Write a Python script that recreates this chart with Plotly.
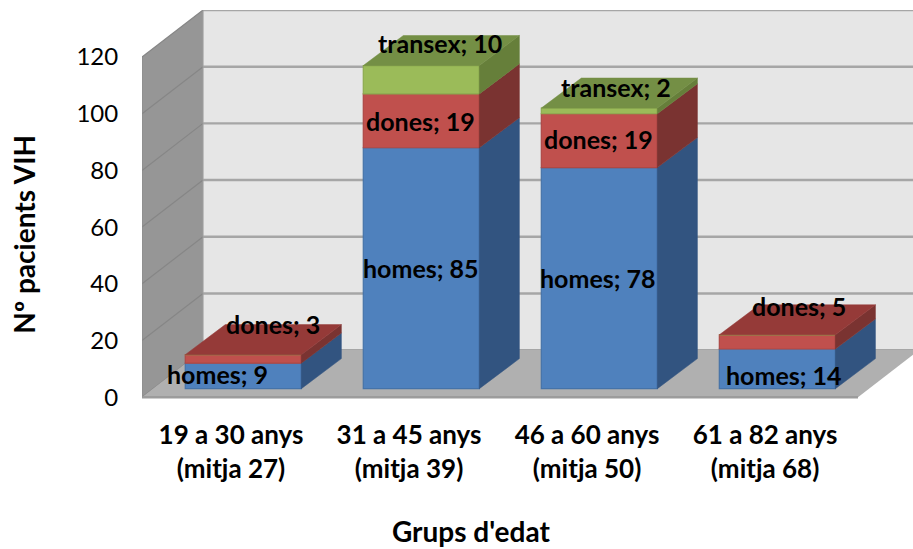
import plotly.graph_objects as go

# ---- data ----
groups = ["19 a 30 anys", "31 a 45 anys", "46 a 60 anys", "61 a 82 anys"]
means = ["(mitja 27)", "(mitja 39)", "(mitja 50)", "(mitja 68)"]
series_names = ["homes", "dones", "transex"]
homes = [9, 85, 78, 14]
dones = [3, 19, 19, 5]
transex = [0, 10, 2, 0]
y_ticks = [0, 20, 40, 60, 80, 100, 120]

# ---- pseudo-3D projection (axis units) ----
X_POS = [1, 2, 3, 4]
BAR_W = 0.652
BAR_SHIFT = 0.069
LIFT = 3.0
BAR_DX, BAR_DY = 0.225, 10.6
WALL_DX, WALL_DY = 0.343, 16.6
X0, X1 = 0.5, 4.831
FLOOR_X1 = 4.522
Y_MAX = 120

FRONT = {"homes": "#4F81BD", "dones": "#C0504D", "transex": "#9BBB59"}
EDGE = {"homes": "#4673A8", "dones": "#AD4845", "transex": "#8DAB50"}
SIDE = {"homes": "#325480", "dones": "#7A3331", "transex": "#667F3A"}
TOP = {"homes": "#3B6296", "dones": "#953A38", "transex": "#748F45"}
FONT = "Lato, 'Open Sans', sans-serif"

fig = go.Figure()
values = {"homes": homes, "dones": dones, "transex": transex}


def poly(pts, fill, line=None, width=0):
    path = "M " + " L ".join(f"{x},{y}" for x, y in pts) + " Z"
    return dict(type="path", path=path, xref="x", yref="y", layer="below",
                fillcolor=fill, line=dict(color=line or fill, width=width))


shapes = [
    # back wall
    poly([(X0 + WALL_DX, WALL_DY), (X1 + 1, WALL_DY), (X1 + 1, Y_MAX + WALL_DY),
          (X0 + WALL_DX, Y_MAX + WALL_DY)], "#E6E6E6"),
    # left wall
    poly([(X0, 0), (X0 + WALL_DX, WALL_DY), (X0 + WALL_DX, Y_MAX + WALL_DY), (X0, Y_MAX)],
         "#969696"),
]
for t in y_ticks:
    shapes.append(dict(type="line", xref="x", yref="y", layer="below",
                       x0=X0 + WALL_DX, x1=X1 + 1, y0=t + WALL_DY, y1=t + WALL_DY,
                       line=dict(color="#A6A6A6", width=2.4)))
    shapes.append(dict(type="line", xref="x", yref="y", layer="below",
                       x0=X0, x1=X0 + WALL_DX, y0=t, y1=t + WALL_DY,
                       line=dict(color="#868686", width=1.2)))
# floor
shapes.append(poly([(X0, 0), (FLOOR_X1, 0), (FLOOR_X1 + WALL_DX, WALL_DY), (X0 + WALL_DX, WALL_DY)],
                   "#B0B0B0"))
shapes.append(dict(type="line", xref="x", yref="y", layer="below",
                   x0=X0, x1=FLOOR_X1, y0=0, y1=0, line=dict(color="#9C9C9C", width=2.5)))
shapes.append(dict(type="line", xref="x", yref="y", layer="below",
                   x0=X0 + WALL_DX, x1=X0 + WALL_DX, y0=WALL_DY, y1=Y_MAX + WALL_DY,
                   line=dict(color="#A0A0A0", width=1)))
shapes.append(dict(type="line", xref="x", yref="y", layer="below",
                   x0=X0, x1=X0, y0=0, y1=Y_MAX, line=dict(color="#8A8A8A", width=1)))

# ---- stacked fronts, sides and tops ----
bar_x = [x + BAR_SHIFT for x in X_POS]
bases = [LIFT] * len(X_POS)
for name in series_names:
    vals = values[name]
    fig.add_trace(go.Bar(x=bar_x, y=vals, base=bases[:], width=BAR_W, name=name,
                         marker=dict(color=FRONT[name], line=dict(color=EDGE[name], width=1.2)),
                         showlegend=False))
    for i, v in enumerate(vals):
        if v == 0:
            continue
        xr = bar_x[i] + BAR_W / 2
        b, t = bases[i], bases[i] + v
        fig.add_trace(go.Scatter(
            x=[xr, xr + BAR_DX, xr + BAR_DX, xr, xr],
            y=[b, b + BAR_DY, t + BAR_DY, t, b],
            mode="lines", fill="toself", fillcolor=SIDE[name],
            line=dict(color=SIDE[name], width=0.5),
            hoverinfo="skip", showlegend=False))
    bases = [b + v for b, v in zip(bases, vals)]

# top face belongs to the uppermost non-empty series of each bar
for i in range(len(X_POS)):
    top_name = [n for n in series_names if values[n][i] > 0][-1]
    xl = bar_x[i] - BAR_W / 2
    xr = bar_x[i] + BAR_W / 2
    t = bases[i]
    fig.add_trace(go.Scatter(
        x=[xl, xr, xr + BAR_DX, xl + BAR_DX, xl],
        y=[t, t, t + BAR_DY, t + BAR_DY, t],
        mode="lines", fill="toself", fillcolor=TOP[top_name],
        line=dict(color=TOP[top_name], width=0.5),
        hoverinfo="skip", showlegend=False))

# ---- data labels, anchored at segment centres, shifted in pixels ----
label_shift = {
    "homes": [(-26, 2), (0, 0), (-1, 0), (7, -6)],
    "dones": [(30, 35), (-1, 0), (-1, 2), (22, 36)],
    "transex": [(0, 0), (19, 37), (17, 23.7), (0, 0)],
}
annotations = []
running = [LIFT] * len(X_POS)
for name in series_names:
    for i, v in enumerate(values[name]):
        if v == 0:
            continue
        sx, sy = label_shift[name][i]
        annotations.append(dict(x=bar_x[i], y=running[i] + v / 2, xref="x", yref="y",
                                text=f"{name}; {v}", showarrow=False,
                                xshift=sx, yshift=sy,
                                font=dict(family=FONT, size=25, color="black", weight="bold")))
        running[i] += v

# axis titles sit off-centre in the reference, so they are placed as annotations
annotations.append(dict(x=0.4267, y=0, xref="paper", yref="paper", yshift=-150,
                        text="Grups d'edat", showarrow=False,
                        font=dict(family=FONT, size=28, color="black", weight="bold")))
annotations.append(dict(x=0, y=0.424, xref="paper", yref="paper", xshift=-137, textangle=-90,
                        text="Nº pacients VIH", showarrow=False,
                        font=dict(family=FONT, size=28, color="black", weight="bold")))

tick_text = [f'<span style="font-size:26px">{g}</span><br><span style="font-size:26px">{m}</span>'
             for g, m in zip(groups, means)]

fig.update_layout(
    width=913, height=549,
    margin=dict(l=142, r=0, t=10, b=149),
    paper_bgcolor="white", plot_bgcolor="rgba(0,0,0,0)",
    barmode="overlay", showlegend=False,
    shapes=shapes, annotations=annotations,
    font=dict(family=FONT, color="black"),
    xaxis=dict(range=[X0, X1], tickvals=X_POS, ticktext=tick_text, showgrid=False,
               zeroline=False, showline=False, ticks="outside", ticklen=12,
               tickcolor="rgba(0,0,0,0)",
               tickfont=dict(family=FONT, size=26, color="black", weight="bold")),
    yaxis=dict(range=[-1, 136.6], tickvals=y_ticks, showgrid=False, zeroline=False,
               showline=False, ticks="outside", ticklen=18, tickcolor="rgba(0,0,0,0)",
               tickfont=dict(family=FONT, size=24, color="black")),
)

fig.write_html("out.html", post_script="document.body.style.margin='0';",
               config={"displayModeBar": False})
